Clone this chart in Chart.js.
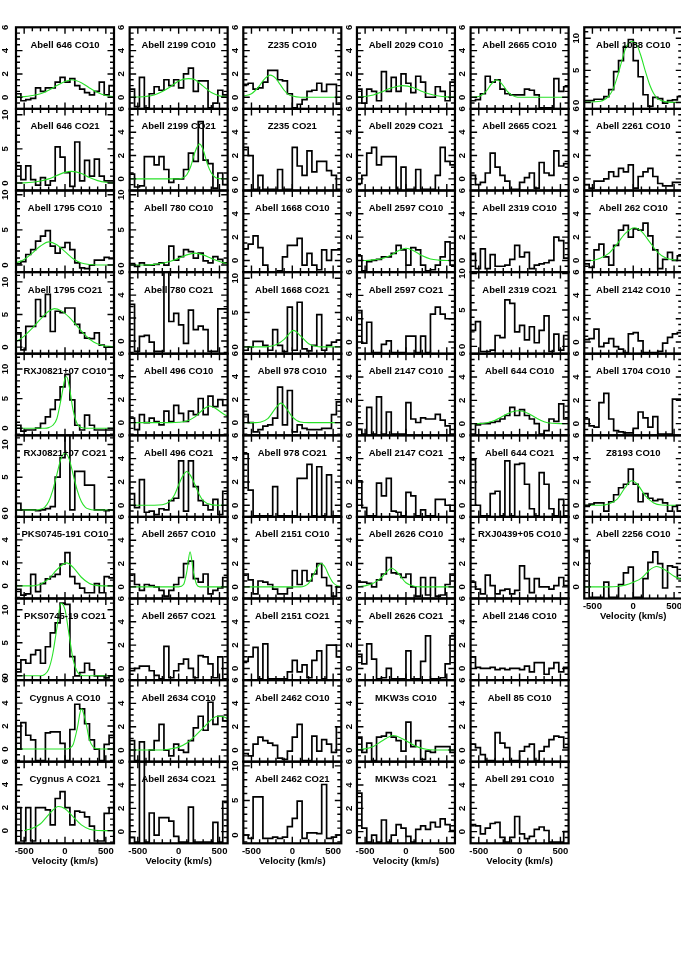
<!DOCTYPE html>
<html>
<head>
<meta charset="utf-8">
<script src="https://cdn.jsdelivr.net/npm/chart.js@4.4.1/dist/chart.umd.min.js"></script>
<style>
html, body { margin: 0; padding: 0; background: #fff; overflow: hidden; }
#page { position: relative; width: 681px; height: 973px; overflow: hidden; background: #fff; }
#page canvas { position: absolute; }
.ttl { position: absolute; font: bold 9.5px "Liberation Sans", Arial, sans-serif; line-height: 11px;
       white-space: pre; transform: translateX(-50%); color: #000; }
</style>
</head>
<body>
<div id="page"></div>
<script>
// velocity bins: left edges in km/s, the last bin closes at binEnd
const binStart = [-600, -540, -480, -420, -360, -300, -240, -180, -120, -60, 0, 60, 120, 180, 240, 300, 360, 420, 480, 540];
const binEnd = 600;

// panel titles, column by column
const titles = [
  'Abell 646 CO10', 'Abell 646 CO21', 'Abell 1795 CO10', 'Abell 1795 CO21', 'RXJ0821+07 CO10',
  'RXJ0821+07 CO21', 'PKS0745-191 CO10', 'PKS0745-19 CO21', 'Cygnus A CO10', 'Cygnus A CO21',
  'Abell 2199 CO10', 'Abell 2199 CO21', 'Abell 780 CO10', 'Abell 780 CO21', 'Abell 496 CO10',
  'Abell 496 CO21', 'Abell 2657 CO10', 'Abell 2657 CO21', 'Abell 2634 CO10', 'Abell 2634 CO21',
  'Z235 CO10', 'Z235 CO21', 'Abell 1668 CO10', 'Abell 1668 CO21', 'Abell 978 CO10',
  'Abell 978 CO21', 'Abell 2151 CO10', 'Abell 2151 CO21', 'Abell 2462 CO10', 'Abell 2462 CO21',
  'Abell 2029 CO10', 'Abell 2029 CO21', 'Abell 2597 CO10', 'Abell 2597 CO21', 'Abell 2147 CO10',
  'Abell 2147 CO21', 'Abell 2626 CO10', 'Abell 2626 CO21', 'MKW3s CO10', 'MKW3s CO21',
  'Abell 2665 CO10', 'Abell 2665 CO21', 'Abell 2319 CO10', 'Abell 2319 CO21', 'Abell 644 CO10',
  'Abell 644 CO21', 'RXJ0439+05 CO10', 'Abell 2146 CO10', 'Abell 85 CO10', 'Abell 291 CO10',
  'Abell 1088 CO10', 'Abell 2261 CO10', 'Abell 262 CO10', 'Abell 2142 CO10', 'Abell 1704 CO10',
  'Z8193 CO10', 'Abell 2256 CO10'
];

// brightness temperature per bin (mK)
const a646co10 = [0.3, -0.3, -0.2, -0.1, 0.8, 0.5, 0.8, 0.8, 1.3, 1.7, 1.3, 1.6, 1.0, 0.7, 0.4, 0.2, 0.5, 1.3, 0.2, 1.0];
const a646co21 = [2.5, 0.5, 2.5, 0.5, -0.3, 0.8, -0.3, 0.3, 5.3, 3.8, 1.5, -0.5, 6.0, 0.3, 3.3, 1.0, 3.5, 1.0, 0.3, 0.3];
const a1795co10 = [0.2, 0.5, 1.5, 2.2, 3.4, 4.1, 4.9, 2.7, 1.7, 2.5, 3.2, 2.2, 0.3, -0.4, -0.5, 0.0, 0.7, 0.7, 1.1, 0.9];
const a1795co21 = [2.2, -0.4, 3.2, 3.2, 7.3, 4.7, 8.1, 2.4, 5.5, 5.3, 6.0, 6.0, 3.5, 2.2, 1.4, 1.3, 2.2, 0.3, 0.0, 0.0];
const rxj0821co10 = [0.5, -0.5, -0.3, -0.3, 0.0, 0.8, 1.9, 3.2, 4.8, 7.0, 9.1, 4.8, 0.5, -0.3, 2.2, 0.5, -0.3, -0.3, -0.3, -0.3];
const rxj0821co21 = [1.0, 0.0, 0.0, 0.0, -0.1, 0.0, 0.2, 0.5, 5.0, 8.0, 12.5, 0.0, 5.9, 5.9, 3.8, 3.8, 0.0, 0.0, -0.1, 0.0];
const pks0745co10 = [-0.3, -0.8, -0.7, 1.0, -0.5, 0.2, 0.6, 0.8, 1.0, 1.9, 2.9, 0.8, 0.2, -0.2, -0.6, -0.6, 0.2, -0.6, 0.8, 0.7];
const pks0745co21 = [0.6, 2.4, 1.9, 3.2, 3.9, 1.9, 4.4, 6.5, 8.0, 11.0, 10.8, 2.9, 0.0, 0.5, 1.9, 0.9, 0.0, 0.0, -0.3, 0.0];
const cygAco10 = [0.0, 2.3, 1.2, 0.8, -1.0, -1.0, 1.4, 1.5, 1.5, 0.5, -1.0, 1.7, 3.9, 3.5, 2.2, 0.8, 0.0, -1.0, 0.4, 1.2];
const cygAco21 = [2.0, -0.9, 2.0, -0.9, 2.0, 2.0, 1.8, 0.5, 2.8, 3.4, 2.0, 0.5, 1.7, 1.6, 1.2, 0.4, -0.9, -0.9, 1.5, 2.0];

const a2199co10 = [0.7, -0.8, 1.7, -0.9, 0.3, 0.9, 0.6, 1.5, 1.0, 1.5, 0.8, 2.0, 2.5, 0.5, 1.4, 1.4, -0.9, -0.5, 0.6, 0.2];
const a2199co21 = [0.4, -0.7, -0.6, 1.9, 1.9, 1.2, 1.9, 0.8, -0.3, 0.0, 0.0, 0.8, 2.2, 1.5, 4.9, 1.6, 1.3, -0.8, 0.5, -0.5];
const a780co10 = [0.2, -0.2, 0.3, 0.0, 0.0, 0.1, 0.3, 0.0, 2.7, 0.7, 1.2, 2.2, 1.9, 1.0, 1.7, 0.6, 0.3, 1.2, 0.8, 0.3];
const a780co21 = [3.2, -0.9, 0.4, 0.5, -0.1, -0.9, -0.9, 7.0, 1.7, 2.4, 1.4, -0.2, 2.7, 1.0, 1.3, 1.0, -0.9, -0.9, 2.8, 2.8];
const a496co10 = [0.4, -0.6, 0.7, 0.0, 0.4, 0.1, -0.2, 1.0, 0.1, 1.5, 0.8, 0.1, 1.0, 0.7, 2.1, 0.7, 2.3, 1.4, 2.0, 1.5];
const a496co21 = [1.0, -0.2, 2.2, -0.6, -0.5, -0.8, -0.3, -0.4, 0.4, 0.6, 3.8, -0.5, 3.8, 1.6, 0.4, 0.0, -0.4, 0.5, -0.8, 1.2];
const a2657co10 = [1.1, 0.2, -0.3, 0.2, 0.1, 0.0, -0.3, -0.8, -0.3, 0.2, 0.8, 2.0, 2.2, 0.7, 0.4, 1.1, -0.6, -0.3, -0.1, 0.8];
const a2657co21 = [-0.2, 0.0, 0.2, 0.2, -0.2, -0.6, -0.9, 1.9, -0.8, -0.2, 0.4, 0.8, 0.0, -0.8, 1.1, 1.0, 0.4, -0.8, 1.0, -0.9];
const a2634co10 = [0.8, -0.9, 0.7, -1.0, 0.0, 0.8, 2.2, 0.0, -0.5, 0.5, 0.0, -0.2, 0.8, 1.9, 2.9, 1.7, 4.1, 2.2, 2.9, 2.5];
const a2634co21 = [-0.5, -0.9, 6.5, -0.9, 1.6, -0.3, 1.2, 1.2, 0.9, -0.4, -0.9, -0.9, 2.1, -0.9, -0.9, -0.9, -0.9, 0.8, -0.9, 2.6];

const z235co10 = [1.1, 1.2, 0.7, 0.8, 1.3, 2.3, 2.3, 1.5, 1.4, 0.3, -0.9, -0.6, -0.2, 0.5, 0.6, 1.2, 0.5, 1.1, 1.1, -0.6];
const z235co21 = [2.7, 2.0, -0.9, 0.3, -0.9, -0.9, -0.9, 0.8, -0.9, -0.9, 2.7, 1.1, 0.3, 2.4, 0.6, 1.5, 1.5, 0.7, 0.3, -0.9];
const a1668co10 = [1.0, 1.4, 2.1, 1.1, -0.4, -1.0, -1.0, -0.9, 0.3, 1.3, 1.3, 1.9, -0.4, 0.6, -0.4, -0.8, 0.9, 0.0, 0.9, 0.9];
const a1668co21 = [-0.5, 0.0, 0.8, 0.8, 0.2, -0.5, 2.5, 0.2, -0.7, 5.8, -0.5, 6.5, -0.3, -0.6, 0.2, 4.7, -0.5, 0.2, 0.7, 1.0];
const a978co10 = [0.7, 0.0, -0.8, -0.6, -0.3, -0.2, 0.4, 3.1, -0.2, 2.8, -0.8, -0.2, -0.5, -0.6, -0.6, -0.6, -0.5, -0.5, 0.7, 1.8];
const a978co21 = [4.4, 1.3, -0.9, -0.9, -0.9, -0.9, 1.6, -0.9, -0.9, -0.9, -0.9, 2.3, 2.3, 3.5, -0.9, 3.3, -0.9, 2.6, -0.9, -0.9];
const a2151co10 = [1.1, 0.6, -0.6, 0.5, 0.4, 0.2, -0.2, -0.6, -0.6, -0.1, 1.4, 0.2, 1.4, 0.5, 1.1, 2.0, 0.8, 0.1, -0.8, 0.0];
const a2151co21 = [0.6, 1.0, 1.8, -0.9, 2.1, -0.9, -0.9, -0.9, -0.9, -0.3, 0.7, -0.3, 0.3, -0.8, 0.7, 1.5, -0.9, 2.0, 2.0, 1.0];
const a2462co10 = [-0.3, -0.5, 0.5, 1.1, 0.8, 0.6, 0.4, -0.7, -0.8, -0.1, 1.1, 2.2, -0.9, -0.9, 1.2, -0.1, 0.9, 0.5, -0.2, 2.0];
const a2462co21 = [0.0, -0.5, 5.5, 5.5, -0.5, -0.5, -0.3, -0.5, -0.3, 1.2, 2.4, 4.9, -0.5, 0.3, 0.3, 0.2, 7.3, -0.5, -0.3, 0.0];

const a2029co10 = [0.7, -0.5, 0.7, 0.5, -0.3, 2.2, 0.5, 1.7, 0.5, 2.0, 1.2, 0.4, 1.8, 1.3, 0.0, 0.0, 0.9, 0.5, -0.3, 1.3];
const a2029co21 = [-0.4, 0.3, 2.2, 2.7, 1.2, 1.9, 1.9, 1.9, -0.9, 1.0, -0.9, -0.9, 0.8, -0.9, -0.9, -0.9, 0.3, 2.7, 1.5, 1.2];
const a2597co10 = [0.4, -0.9, -0.1, 0.0, 0.1, 0.3, 0.3, 0.6, 1.3, 0.9, -0.4, 1.1, 0.9, -0.4, -0.9, -0.8, -0.4, 0.3, 1.6, -0.4];
const a2597co21 = [2.7, -0.1, 1.7, -0.9, -0.9, -0.2, 0.1, -0.9, -0.9, -0.9, 0.5, 0.5, -0.9, 0.5, -0.9, 2.4, 3.0, 2.4, 2.0, 2.0];
const a2147co10 = [-0.5, -0.9, 1.4, -0.9, 2.3, -0.9, 1.0, -0.9, -0.9, -0.9, 1.8, 0.4, 0.1, 0.5, 0.4, 0.4, 0.8, 0.3, -0.2, -0.9];
const a2147co21 = [2.1, -0.2, -0.9, -0.9, 1.9, 0.8, 2.3, -0.5, -0.6, -0.9, 1.1, 0.8, -0.9, -0.4, -0.9, -0.9, 0.5, 0.5, 0.0, -0.5];
const a2626co10 = [0.4, 0.4, 0.3, 0.0, 0.6, 1.1, 2.5, 1.2, 1.1, 0.8, 1.1, 0.0, -0.8, 0.8, -0.7, 0.8, -0.8, -0.7, 0.2, 1.1];
const a2626co21 = [1.2, 0.4, 2.1, 0.8, -0.9, -0.8, 0.0, -0.9, -0.9, -0.9, 1.5, -0.9, -0.9, 0.6, 2.8, -0.9, -0.9, -0.8, 0.4, 2.8];
const mkw3sco10 = [1.1, -0.2, 0.6, -0.9, 1.1, 1.2, 1.5, 1.1, 0.8, -0.1, 2.4, 0.3, 0.8, -0.8, -0.1, -0.2, 0.3, 0.3, 0.3, -0.2];
const mkw3sco21 = [3.3, 0.3, -0.9, -0.3, -0.9, 1.0, -0.9, -0.3, 0.6, 0.3, -0.4, -0.9, 0.2, 0.5, 0.2, 0.8, 0.4, 1.1, 0.6, 0.1];

const a2665co10 = [-0.3, -0.2, 0.3, 1.8, 1.3, 1.5, 0.7, 0.3, 0.2, 0.2, 0.2, 0.7, 0.6, 0.2, -0.9, -0.9, -0.9, 1.6, 0.5, 0.9];
const a2665co21 = [0.3, -0.5, -0.3, 0.5, 2.2, 1.0, 0.3, -0.2, -0.9, -0.9, -0.3, 0.1, 0.5, -0.8, 1.4, 0.5, 0.3, 2.4, 1.1, 1.3];
const a2319co10 = [0.6, -0.7, 1.0, -0.7, 0.5, -0.5, -0.5, -0.4, 0.1, 1.3, 0.3, 0.7, -0.7, -0.4, -0.3, -0.2, 0.0, 2.0, 1.7, 0.2];
const a2319co21 = [2.2, 3.4, -0.7, -0.7, -0.5, 1.5, 1.2, 6.4, 5.9, 2.0, 2.9, 0.9, 2.7, 0.5, 2.2, 4.2, -0.7, 1.7, -0.5, 1.5];
const a644co10 = [-0.9, -0.1, 0.0, 0.0, 0.1, 0.2, 0.4, 0.7, 1.4, 0.7, 1.2, 0.7, 0.4, 0.0, -0.9, -0.6, 0.4, 0.2, 1.7, 0.4];
const a644co21 = [3.9, 0.0, -0.9, -0.9, 1.0, 1.2, -0.9, 3.8, -0.9, 3.5, 3.6, 1.8, -0.3, -0.9, 2.8, 1.8, -0.3, -0.9, 0.5, -0.9];
const rxj0439co10 = [0.4, -0.2, -0.6, 1.0, 0.1, -0.6, -0.3, -0.2, -0.6, -0.3, 1.8, 0.7, -0.5, 0.7, 0.0, 0.0, -0.2, 0.1, 0.8, 0.1];
const a2146co10 = [1.0, 0.1, 0.0, 0.0, 0.1, -0.1, 0.0, -0.1, 0.0, 0.0, -0.1, 0.2, -0.3, 0.5, 0.5, -0.5, 0.0, 0.5, -0.3, 0.1];
const a85co10 = [0.5, 0.2, -0.4, -0.9, -0.9, 1.5, 0.6, 0.2, -0.9, -0.9, -0.1, 0.3, 0.5, -0.9, -0.1, 0.3, 0.9, 1.2, 1.1, 0.2];
const a291co10 = [0.6, 0.5, -0.2, 0.3, 0.7, 0.8, -0.5, -0.9, -0.5, 1.3, -0.2, -0.6, -0.4, 0.2, 0.4, 0.1, -0.9, -0.9, -0.9, 0.0];

const a1088co10 = [0.3, 0.3, 0.5, 0.5, 0.9, 2.0, 4.8, 6.5, 8.7, 9.8, 6.5, 4.0, 1.2, -0.6, 0.8, 0.6, -0.1, 0.3, 0.4, 0.9];
const a2261co10 = [-0.5, -0.8, -0.2, -0.2, 0.0, 0.6, 0.2, 0.9, 0.6, 1.2, -0.8, 0.2, 0.6, 0.9, 0.2, -0.4, -0.6, -0.6, -0.3, -0.3];
const a262co10 = [-0.3, -0.6, 0.9, 1.4, 0.3, -0.4, 1.3, 2.6, 3.0, 2.0, 2.7, 2.6, 3.2, 2.1, 0.9, -0.7, 0.1, 0.7, 0.0, 0.4];
const a2142co10 = [0.2, 0.3, 1.1, -0.4, -0.1, 0.3, -0.4, -0.6, -0.9, 0.7, 0.8, 0.1, -0.9, -0.9, -0.9, -0.8, -0.1, 0.4, 0.7, 0.8];
const a1704co10 = [0.4, -0.2, -0.3, 1.8, 2.6, 0.4, -0.6, -0.7, -0.8, -0.8, -0.4, 1.0, 0.5, -0.3, 0.6, -0.9, -0.9, -0.9, 2.1, 2.1];
const z8193co10 = [-0.1, 0.1, 0.2, 0.2, -0.5, 0.3, 0.9, 1.5, 1.8, 3.1, 1.8, 0.3, 1.0, 0.6, 0.4, 0.5, 0.2, -0.5, -0.1, -0.5];
const a2256co10 = [3.1, -0.9, -0.9, -0.9, 0.4, -0.9, -0.9, 0.2, 1.2, 1.7, -0.9, -0.9, 0.7, 2.1, 3.0, 2.0, -0.1, 1.8, 1.7, 0.7];

// gaussian fits: [velocity, T]
const a646co10Fit = [[-600, 0.02], [-500, 0.05], [-400, 0.15], [-300, 0.3], [-200, 0.6], [-100, 1.0], [0, 1.35], [80, 1.5], [200, 1.25], [300, 0.8], [400, 0.4], [500, 0.15], [600, 0.05]];
const a646co21Fit = [[-600, 0], [-500, 0.02], [-400, 0.1], [-300, 0.3], [-200, 0.6], [-100, 1.1], [0, 1.55], [80, 1.7], [200, 1.4], [300, 0.8], [400, 0.35], [500, 0.1], [600, 0.02]];
const a1795co10Fit = [[-600, 0.3], [-500, 0.8], [-400, 1.7], [-300, 2.7], [-200, 3.3], [-100, 2.9], [0, 1.9], [100, 0.9], [200, 0.3], [300, 0.07], [400, 0.01], [600, 0]];
const a1795co21Fit = [[-600, 0.8], [-500, 1.7], [-400, 2.9], [-300, 4.3], [-200, 5.5], [-130, 5.9], [-50, 5.6], [50, 4.6], [150, 3.2], [250, 1.8], [350, 0.8], [450, 0.3], [600, 0.05]];
const rxj0821co10Fit = [[-600, 0], [-250, 0], [-200, 0.1], [-150, 0.5], [-100, 1.6], [-50, 4.8], [0, 8.4], [20, 8.7], [50, 7.2], [100, 3.0], [150, 0.7], [200, 0.1], [250, 0], [600, 0]];
const rxj0821co21Fit = [[-600, 0], [-350, 0], [-300, 0.1], [-250, 0.4], [-200, 1.3], [-150, 3.0], [-100, 5.4], [-50, 7.8], [0, 8.7], [50, 7.8], [100, 5.4], [150, 3.0], [200, 1.3], [250, 0.4], [300, 0.1], [350, 0], [600, 0]];
const pks0745co10Fit = [[-600, 0], [-400, 0], [-350, 0.05], [-300, 0.15], [-200, 0.6], [-100, 1.4], [20, 2.0], [100, 1.6], [200, 0.75], [300, 0.2], [350, 0.08], [400, 0.02], [600, 0]];
const pks0745co21Fit = [[-600, 0], [-300, 0], [-250, 0.2], [-200, 1.0], [-150, 3.3], [-100, 7.2], [-50, 11.0], [0, 10.0], [50, 6.2], [100, 2.4], [150, 0.6], [200, 0.1], [250, 0], [600, 0]];
const cygAco10Fit = [[-600, 0], [0, 0], [50, 0.05], [100, 0.4], [150, 1.8], [200, 3.5], [250, 2.5], [300, 0.8], [350, 0.15], [400, 0.02], [450, 0], [600, 0]];
const cygAco21Fit = [[-500, 0], [-450, 0.1], [-400, 0.2], [-300, 0.6], [-200, 1.4], [-80, 2.1], [0, 1.9], [100, 1.2], [200, 0.5], [300, 0.13], [400, 0.02], [600, 0]];
const a2199co10Fit = [[-600, 0], [-500, 0.02], [-400, 0.07], [-300, 0.2], [-200, 0.5], [-100, 0.9], [0, 1.4], [120, 1.6], [200, 1.5], [300, 0.95], [400, 0.4], [500, 0.12], [600, 0.03]];
const a2199co21Fit = [[-600, 0], [0, 0], [50, 0.07], [100, 0.35], [150, 1.1], [200, 2.3], [255, 3.0], [300, 2.5], [350, 1.3], [400, 0.5], [450, 0.12], [500, 0.02], [600, 0]];
const a780co10Fit = [[-600, 0], [-400, 0.02], [-300, 0.1], [-200, 0.25], [-100, 0.55], [0, 0.95], [100, 1.45], [200, 1.7], [300, 1.45], [400, 0.95], [500, 0.5], [600, 0.2]];
const a496co10Fit = [[-600, 0], [-100, 0], [0, 0.03], [100, 0.15], [200, 0.5], [300, 1.15], [380, 1.45], [450, 1.25], [550, 0.75], [600, 0.55]];
const a496co21Fit = [[-600, 0], [-300, 0], [-200, 0.04], [-100, 0.4], [-50, 0.9], [0, 1.75], [50, 2.5], [100, 2.9], [150, 2.5], [200, 1.75], [250, 0.95], [300, 0.4], [400, 0.05], [500, 0], [600, 0]];
const a2657co10Fit = [[-600, 0], [0, 0], [60, 0.2], [100, 1.3], [140, 3.0], [180, 1.3], [220, 0.2], [260, 0], [600, 0]];
const a2634co10Fit = [[-600, 0], [-200, 0], [-100, 0.1], [0, 0.25], [100, 0.6], [200, 1.2], [300, 1.9], [400, 2.6], [470, 2.9], [550, 2.85], [600, 2.7]];
const z235co10Fit = [[-600, 0.1], [-500, 0.3], [-450, 0.6], [-400, 1.0], [-350, 1.5], [-270, 1.9], [-200, 1.6], [-150, 1.1], [-100, 0.6], [-50, 0.25], [0, 0.1], [100, 0], [600, 0]];
const a1668co21Fit = [[-600, 0], [-350, 0], [-300, 0.03], [-200, 0.3], [-100, 1.1], [0, 2.35], [16, 2.4], [100, 1.6], [200, 0.45], [300, 0.05], [350, 0], [600, 0]];
const a978co10Fit = [[-600, 0], [-450, 0], [-400, 0.03], [-300, 0.35], [-200, 1.3], [-140, 1.7], [-50, 1.0], [0, 0.5], [100, 0.05], [200, 0], [600, 0]];
const a2151co10Fit = [[-600, 0], [100, 0], [150, 0.08], [200, 0.3], [250, 0.9], [300, 1.6], [353, 2.0], [400, 1.7], [450, 0.95], [500, 0.35], [550, 0.1], [600, 0.02]];
const a2029co10Fit = [[-600, 0.02], [-500, 0.07], [-400, 0.2], [-300, 0.45], [-200, 0.75], [-100, 0.95], [-40, 1.0], [100, 0.8], [200, 0.5], [300, 0.25], [400, 0.1], [500, 0.03], [600, 0.01]];
const a2597co10Fit = [[-600, 0], [-500, 0], [-400, 0.05], [-300, 0.15], [-200, 0.4], [-100, 0.8], [0, 1.05], [100, 0.8], [200, 0.4], [300, 0.13], [400, 0.03], [500, 0], [600, 0]];
const a2626co10Fit = [[-600, 0], [-500, 0.08], [-400, 0.3], [-300, 0.8], [-174, 1.6], [-100, 1.2], [0, 0.35], [100, 0.05], [200, 0], [600, 0]];
const mkw3sco10Fit = [[-600, 0.03], [-500, 0.1], [-400, 0.3], [-300, 0.75], [-153, 1.25], [-50, 1.0], [50, 0.6], [150, 0.25], [250, 0.07], [350, 0.01], [600, 0]];
const a2665co10Fit = [[-600, 0.01], [-500, 0.07], [-450, 0.25], [-400, 0.6], [-350, 1.1], [-280, 1.5], [-200, 1.0], [-150, 0.5], [-100, 0.2], [-50, 0.05], [0, 0], [600, 0]];
const a644co10Fit = [[-600, 0], [-500, 0], [-400, 0.08], [-300, 0.3], [-200, 0.65], [-100, 1.0], [-6, 1.1], [100, 0.9], [200, 0.5], [300, 0.17], [400, 0.03], [500, 0], [600, 0]];
const a1088co10Fit = [[-600, 0.05], [-400, 0.2], [-300, 1.0], [-250, 2.0], [-200, 3.8], [-150, 6.0], [-100, 8.2], [-50, 9.3], [-10, 9.5], [50, 8.8], [100, 7.0], [150, 4.8], [200, 2.8], [250, 1.4], [300, 0.6], [400, 0.1], [600, 0]];
const a262co10Fit = [[-600, 0], [-500, 0], [-400, 0.2], [-300, 0.6], [-200, 1.4], [-100, 2.3], [15, 2.8], [100, 2.5], [200, 1.6], [300, 0.7], [400, 0.2], [500, 0.04], [600, 0]];
const z8193co10Fit = [[-600, 0], [-400, 0], [-300, 0.1], [-200, 0.5], [-100, 1.5], [-20, 2.1], [50, 1.8], [150, 0.8], [250, 0.2], [350, 0.02], [450, 0], [600, 0]];
const a2256co10Fit = [[-600, 0], [-300, 0], [-200, 0.03], [-100, 0.15], [0, 0.4], [100, 0.75], [200, 1.45], [285, 1.75], [400, 1.4], [500, 0.9], [600, 0.6]];

const spectra = [
  a646co10, a646co21, a1795co10, a1795co21, rxj0821co10, rxj0821co21, pks0745co10, pks0745co21, cygAco10, cygAco21,
  a2199co10, a2199co21, a780co10, a780co21, a496co10, a496co21, a2657co10, a2657co21, a2634co10, a2634co21,
  z235co10, z235co21, a1668co10, a1668co21, a978co10, a978co21, a2151co10, a2151co21, a2462co10, a2462co21,
  a2029co10, a2029co21, a2597co10, a2597co21, a2147co10, a2147co21, a2626co10, a2626co21, mkw3sco10, mkw3sco21,
  a2665co10, a2665co21, a2319co10, a2319co21, a644co10, a644co21, rxj0439co10, a2146co10, a85co10, a291co10,
  a1088co10, a2261co10, a262co10, a2142co10, a1704co10, z8193co10, a2256co10
];
const fits = [
  a646co10Fit, a646co21Fit, a1795co10Fit, a1795co21Fit, rxj0821co10Fit, rxj0821co21Fit, pks0745co10Fit, pks0745co21Fit, cygAco10Fit, cygAco21Fit,
  a2199co10Fit, a2199co21Fit, a780co10Fit, null, a496co10Fit, a496co21Fit, a2657co10Fit, null, a2634co10Fit, null,
  z235co10Fit, null, null, a1668co21Fit, a978co10Fit, null, a2151co10Fit, null, null, null,
  a2029co10Fit, null, a2597co10Fit, null, null, null, a2626co10Fit, null, mkw3sco10Fit, null,
  a2665co10Fit, null, null, null, a644co10Fit, null, null, null, null, null,
  a1088co10Fit, null, a262co10Fit, null, null, z8193co10Fit, a2256co10Fit
];

// y axis limits per panel
const yMin = [
  -1, -1.1, -1, -1, -1.2, -1.06, -1.1, -0.65, -1.1, -1.1,
  -1, -1, -1, -1.1, -1.1, -1, -1, -1, -1, -1,
  -1, -1, -1, -1, -1.1, -1, -1, -1, -1, -1.2,
  -1, -1, -1, -1, -1, -1, -1, -1, -1, -1,
  -1, -1, -1, -1, -1, -1, -1, -1, -1, -1,
  -1, -1, -1, -1, -1, -1, -1
];
const yMax = [
  6, 10.85, 10.6, 11.5, 12.6, 11.4, 6, 11.7, 6, 6,
  6, 6, 10.6, 6, 6, 6, 6, 6, 6, 6,
  6, 6, 6, 10.9, 6, 6, 6, 6, 6, 10.6,
  6, 6, 6, 6, 6, 6, 6, 6, 6, 6,
  6, 6, 6, 10.2, 6, 6, 6, 6, 6, 6,
  11.7, 6, 6, 6, 6, 6, 6
];

// ---- layout ----
const COL0 = 16, COLSTEP = 113.65, PW = 98;
const ROW0 = 27.3, PH = 81.6;
const YW = 18, XH = 24;
const FAMILY = '"Liberation Sans", Arial, sans-serif';
const FSIZE = 9.5;
const page = document.getElementById('page');
const meas = document.createElement('canvas').getContext('2d');
meas.font = 'bold ' + FSIZE + 'px ' + FAMILY;

function onStep(v, step) {
  return Math.abs(v / step - Math.round(v / step)) < 1e-6;
}

// fixed axis size and no automatic label padding, so the boxes tile exactly
function fixSize(s, size) {
  if (s.isHorizontal()) s.height = size; else s.width = size;
  s.paddingTop = 0; s.paddingBottom = 0; s.paddingLeft = 0; s.paddingRight = 0;
}

// inward tick marks on all four sides plus the box
const frame = {
  id: 'frame',
  afterDatasetsDraw(chart, args, opts) {
    const { ctx, chartArea: a, scales: { x, y } } = chart;
    ctx.save();
    ctx.strokeStyle = '#000';
    ctx.lineWidth = 1.4;
    ctx.beginPath();
    x.ticks.forEach(t => {
      if (t.value <= x.min || t.value >= x.max || !onStep(t.value, 100)) return;
      const p = x.getPixelForValue(t.value);
      const len = onStep(t.value, 500) ? 6.5 : 4;
      ctx.moveTo(p, a.bottom); ctx.lineTo(p, a.bottom - len);
      ctx.moveTo(p, a.top); ctx.lineTo(p, a.top + len);
    });
    y.ticks.forEach(t => {
      if (t.value <= y.min || t.value >= y.max || !onStep(t.value, opts.yMinor)) return;
      const p = y.getPixelForValue(t.value);
      const len = onStep(t.value, opts.yMajor) ? 6.5 : 4;
      ctx.moveTo(a.left, p); ctx.lineTo(a.left + len, p);
      ctx.moveTo(a.right, p); ctx.lineTo(a.right - len, p);
    });
    ctx.stroke();
    ctx.lineWidth = 2.2;
    ctx.strokeRect(a.left, a.top, a.right - a.left, a.bottom - a.top);
    ctx.restore();
  }
};

spectra.forEach((vals, i) => {
  const col = i < 50 ? Math.floor(i / 10) : 5;
  const row = i < 50 ? i % 10 : i - 50;
  const bottom = (col < 5 && row === 9) || (col === 5 && row === 6);
  const left = COL0 + COLSTEP * col;
  const top = ROW0 + PH * row;

  const cl = Math.floor(left) - 20;
  const ct = Math.floor(top) - 6;
  const cw = Math.ceil(left + PW) + 4 - cl;
  const ch = Math.ceil(top + PH) + (bottom ? 34 : 4) - ct;

  const big = yMax[i] > 8;
  const yMinor = big ? 1 : 0.5;
  const yMajor = big ? 5 : 2;
  const majors = [];
  for (let v = Math.ceil(yMin[i] / yMajor) * yMajor; v <= yMax[i] + 1e-9; v += yMajor) majors.push(String(v));
  const widest = Math.max(...majors.map(s => meas.measureText(s).width));
  const labelOff = col === 0 ? 10.6 : 7.9;

  const cv = document.createElement('canvas');
  cv.width = cw; cv.height = ch;
  cv.style.left = cl + 'px'; cv.style.top = ct + 'px';
  cv.style.width = cw + 'px'; cv.style.height = ch + 'px';
  page.appendChild(cv);

  const steps = binStart.map((v, k) => ({ x: v, y: vals[k] }));
  steps.push({ x: binEnd, y: vals[vals.length - 1] });

  const datasets = [];
  if (fits[i]) {
    datasets.push({
      data: fits[i].map(p => ({ x: p[0], y: p[1] })),
      borderColor: 'rgb(40, 225, 40)', borderWidth: 1.1, pointRadius: 0,
      cubicInterpolationMode: 'monotone', fill: false
    });
  }
  datasets.push({
    data: steps, borderColor: '#000', borderWidth: 1.7, pointRadius: 0,
    stepped: true, fill: false
  });

  const font = { family: FAMILY, size: FSIZE, weight: 'bold', lineHeight: 1.2 };

  new Chart(cv, {
    type: 'line',
    data: { datasets: datasets },
    options: {
      responsive: false,
      animation: false,
      events: [],
      layout: {
        autoPadding: false,
        padding: {
          left: left - cl - YW,
          top: top - ct,
          right: cl + cw - (left + PW),
          bottom: ct + ch - (top + PH) - (bottom ? XH : 0)
        }
      },
      plugins: {
        legend: { display: false },
        tooltip: { enabled: false },
        frame: { yMinor: yMinor, yMajor: yMajor }
      },
      scales: {
        x: {
          type: 'linear', min: -600, max: 600,
          grid: { display: false, drawTicks: false },
          border: { display: false },
          ticks: {
            display: bottom, stepSize: 100, autoSkip: false, maxRotation: 0, padding: 2.6,
            includeBounds: false, color: '#000', font: font,
            callback: v => onStep(v, 500) ? String(v) : ''
          },
          title: { display: bottom, text: 'Velocity (km/s)', color: '#000', font: font, padding: 0 },
          afterFit: s => fixSize(s, bottom ? XH : 0)
        },
        y: {
          type: 'linear', min: yMin[i], max: yMax[i],
          grid: { display: false, drawTicks: false },
          border: { display: false },
          ticks: {
            stepSize: yMinor, autoSkip: false, minRotation: 90, maxRotation: 90,
            includeBounds: false, crossAlign: 'center', padding: labelOff - widest / 2,
            color: '#000', font: font,
            callback: v => onStep(v, yMajor) ? String(v) : ''
          },
          afterFit: s => fixSize(s, YW)
        }
      }
    },
    plugins: [frame]
  });

  const t = document.createElement('div');
  t.className = 'ttl';
  t.textContent = titles[i];
  t.style.left = (left + PW / 2) + 'px';
  t.style.top = (top + 17 - 5.5) + 'px';
  page.appendChild(t);
});
</script>
</body>
</html>
